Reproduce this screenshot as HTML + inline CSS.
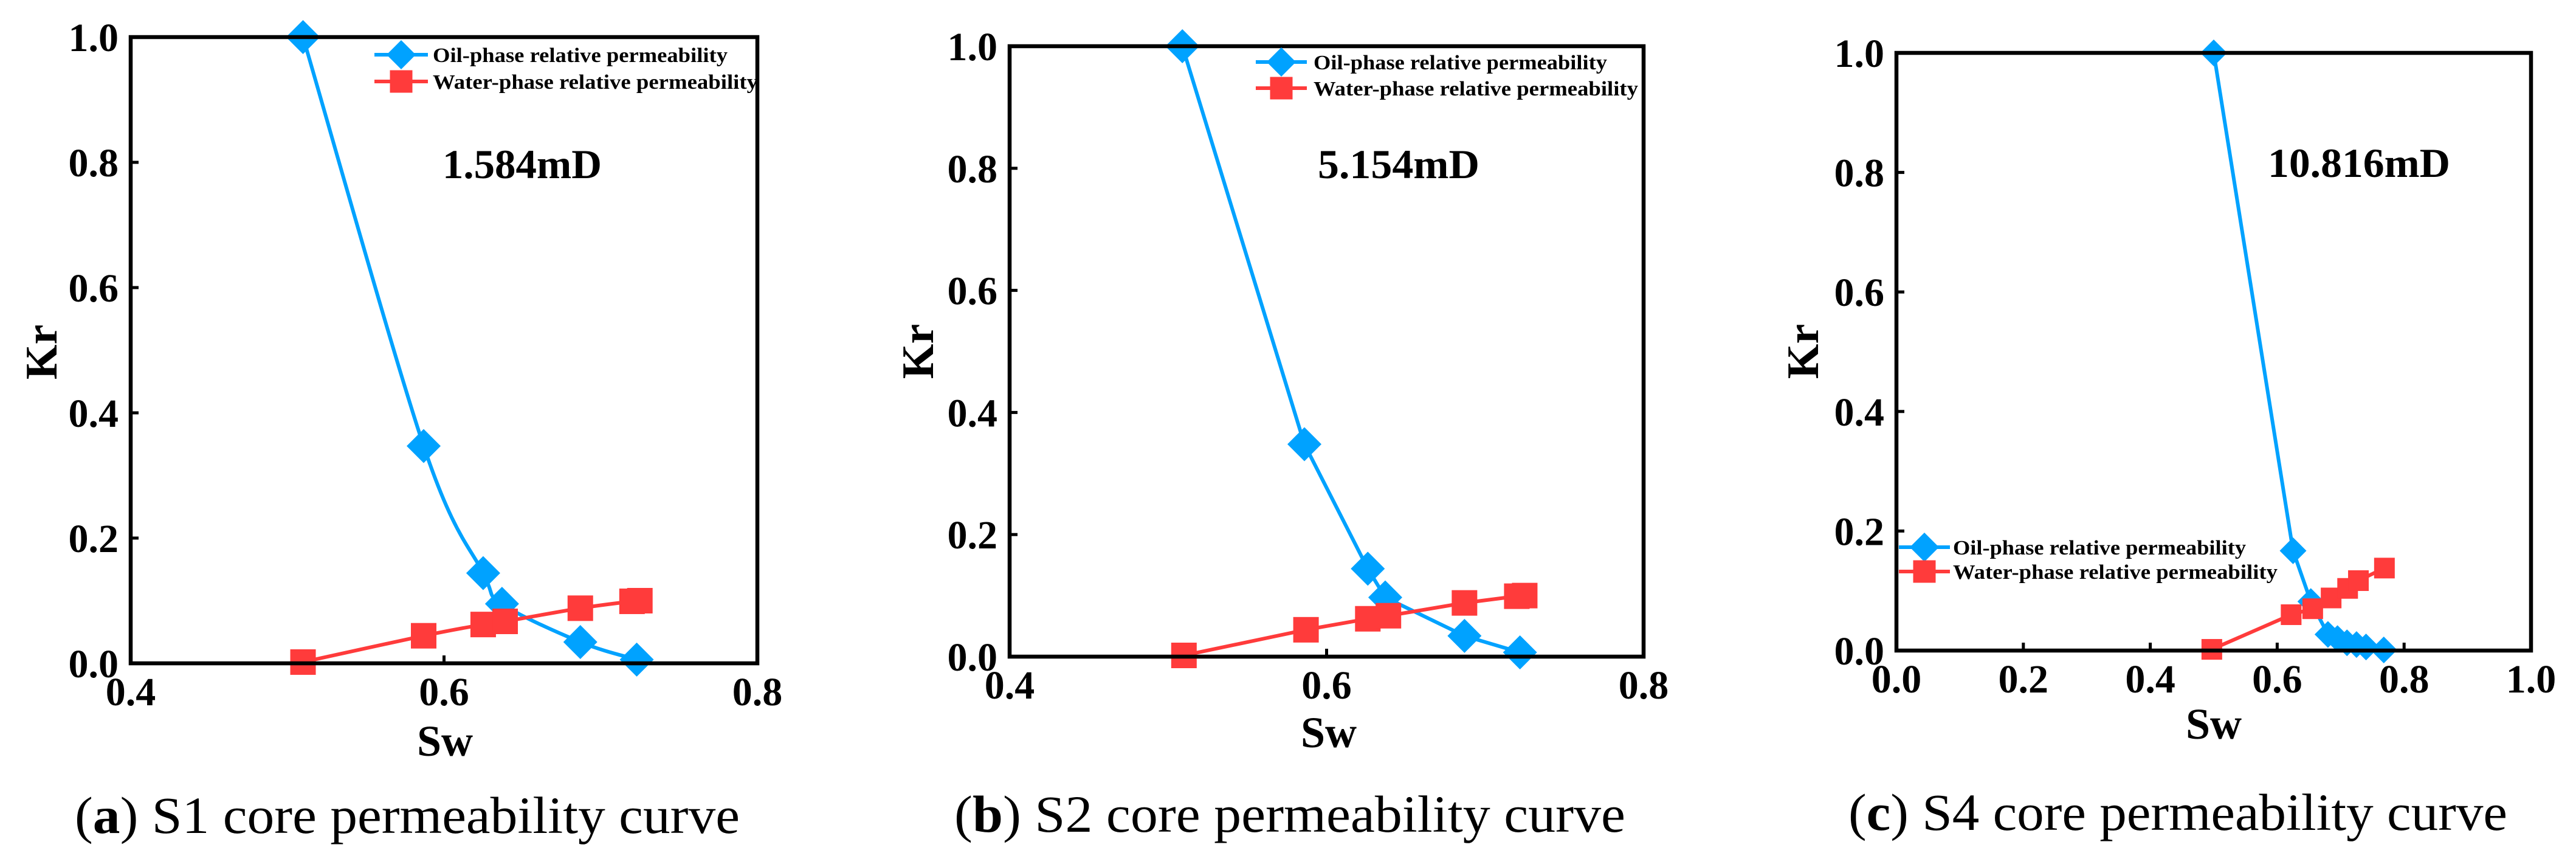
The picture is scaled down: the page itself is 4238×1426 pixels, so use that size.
<!DOCTYPE html>
<html><head><meta charset="utf-8">
<style>
html,body{margin:0;padding:0;background:#fff;}
svg{display:block;font-family:"Liberation Serif",serif;}
</style></head>
<body>
<svg id="fig" width="4238" height="1426" viewBox="0 0 4238 1426" xmlns="http://www.w3.org/2000/svg"></svg>
<script>
// ---- Panel (a) S1 data ----
const aOilSw = [0.510, 0.587, 0.625, 0.637, 0.687, 0.723];
const aOilKr = [1.000, 0.347, 0.144, 0.095, 0.034, 0.006];
const aWatSw = [0.510, 0.587, 0.625, 0.639, 0.687, 0.720, 0.725];
const aWatKr = [0.002, 0.044, 0.062, 0.067, 0.088, 0.099, 0.100];
// ---- Panel (b) S2 data ----
const bOilSw = [0.509, 0.586, 0.626, 0.637, 0.687, 0.722];
const bOilKr = [1.000, 0.348, 0.144, 0.097, 0.034, 0.007];
const bWatSw = [0.510, 0.587, 0.626, 0.639, 0.687, 0.720, 0.725];
const bWatKr = [0.002, 0.044, 0.062, 0.067, 0.088, 0.099, 0.100];
// ---- Panel (c) S4 data ----
const cOilSw = [0.500, 0.625, 0.653, 0.680, 0.695, 0.710, 0.725, 0.740, 0.768];
const cOilKr = [1.000, 0.167, 0.082, 0.027, 0.020, 0.013, 0.010, 0.006, 0.001];
const cWatSw = [0.497, 0.622, 0.656, 0.685, 0.711, 0.728, 0.769];
const cWatKr = [0.002, 0.060, 0.070, 0.088, 0.104, 0.117, 0.138];
// ---- Tick labels ----
const abXTicks = [0.4, 0.6, 0.8];
const cXTicks = [0.0, 0.2, 0.4, 0.6, 0.8, 1.0];
const yTicks = [0.0, 0.2, 0.4, 0.6, 0.8, 1.0];
const labels = ["1.584mD", "5.154mD", "10.816mD"];

const NS = "http://www.w3.org/2000/svg";
const svg = document.getElementById("fig");
function el(tag, attrs, parent) {
  const e = document.createElementNS(NS, tag);
  for (const k in attrs) e.setAttribute(k, attrs[k]);
  (parent || svg).appendChild(e);
  return e;
}
function smoothPath(pts) {
  let d = "M" + pts[0][0] + "," + pts[0][1];
  for (let i = 0; i < pts.length - 1; i++) {
    const p0 = pts[i - 1] || pts[i], p1 = pts[i], p2 = pts[i + 1], p3 = pts[i + 2] || pts[i + 1];
    const c1 = [p1[0] + (p2[0] - p0[0]) / 6, p1[1] + (p2[1] - p0[1]) / 6];
    const c2 = [p2[0] - (p3[0] - p1[0]) / 6, p2[1] - (p3[1] - p1[1]) / 6];
    d += " C" + c1.join(",") + " " + c2.join(",") + " " + p2.join(",");
  }
  return d;
}
function linePath(pts) { return "M" + pts.map(p => p.join(",")).join(" L"); }
function diamond(g, cx, cy, r) {
  const p = el("polygon", {points: `${cx},${cy-r} ${cx+r},${cy} ${cx},${cy+r} ${cx-r},${cy}`, fill: "#00a2ff"}, g);
  
  
}
function square(g, cx, cy, s) {
  const r = el("rect", {x: cx - s/2, y: cy - s/2, width: s, height: s, fill: "#ff3b3b"}, g);
  
  
}

function panel(cfg) {
  const g = el("g", {});
  
  
  const X = v => cfg.L + (v - cfg.x0) / (cfg.x1 - cfg.x0) * (cfg.R - cfg.L);
  const Y = v => cfg.B - v * (cfg.B - cfg.T);
  cfg.xt.forEach(v => {
    const t = el("line", {x1: X(v), x2: X(v), y1: cfg.B, y2: cfg.B - 13, stroke: "#000", "stroke-width": 5}, g);
    
    
    const tx = el("text", {x: X(v), y: cfg.B + 69, "text-anchor": "middle", "font-size": 66, "font-weight": "bold"}, g);
    tx.textContent = v.toFixed(1);
    
    
  });
  yTicks.forEach(v => {
    const t = el("line", {x1: cfg.L, x2: cfg.L + 13, y1: Y(v), y2: Y(v), stroke: "#000", "stroke-width": 5}, g);
    
    
    const tx = el("text", {x: cfg.L - 20, y: Y(v) + 23, "text-anchor": "end", "font-size": 66, "font-weight": "bold"}, g);
    tx.textContent = v.toFixed(1);
    
    
  });
  const oil = cfg.oS.map((s, i) => [X(s), Y(cfg.oK[i])]);
  const wat = cfg.wS.map((s, i) => [X(s), Y(cfg.wK[i])]);
  const ol = el("path", {d: cfg.smooth ? smoothPath(oil) : linePath(oil), fill: "none", stroke: "#00a2ff", "stroke-width": 6}, g);
  
  
  const wl = el("path", {d: cfg.smooth ? smoothPath(wat) : linePath(wat), fill: "none", stroke: "#ff3b3b", "stroke-width": 6}, g);
  
  
  oil.forEach(p => diamond(g, p[0], p[1], cfg.dr));
  wat.forEach(p => square(g, p[0], p[1], cfg.sq));
  const fr = el("rect", {x: cfg.L, y: cfg.T, width: cfg.R - cfg.L, height: cfg.B - cfg.T, fill: "none", stroke: "#000", "stroke-width": 6.5}, g);
  
  
  const lg = el("g", {}, g);
  
  
  const lx1 = cfg.lg[0], lx2 = cfg.lg[1], tx0 = cfg.lg[2], y1 = cfg.lg[3], y2 = cfg.lg[4];
  el("line", {x1: lx1, x2: lx2, y1: y1 - 12, y2: y1 - 12, stroke: "#00a2ff", "stroke-width": 6}, lg);
  diamond(lg, (lx1 + lx2) / 2, y1 - 12, 24);
  el("line", {x1: lx1, x2: lx2, y1: y2 - 12, y2: y2 - 12, stroke: "#ff3b3b", "stroke-width": 6}, lg);
  square(lg, (lx1 + lx2) / 2, y2 - 12, 37);
  const t1 = el("text", {x: tx0, y: y1, "font-size": 34, "font-weight": "bold", textLength: cfg.lg[5], lengthAdjust: "spacingAndGlyphs"}, lg);
  t1.textContent = "Oil-phase relative permeability";
  
  
  const t2 = el("text", {x: tx0, y: y2, "font-size": 34, "font-weight": "bold", textLength: cfg.lg[6], lengthAdjust: "spacingAndGlyphs"}, lg);
  t2.textContent = "Water-phase relative permeability";
  
  
  const an = el("text", {x: cfg.an[0], y: cfg.an[1], "font-size": 68, "font-weight": "bold", textLength: cfg.an[2], lengthAdjust: "spacingAndGlyphs"}, g);
  an.textContent = cfg.label;
  
  
  const kr = el("text", {x: 0, y: 0, "font-size": 74, "font-weight": "bold", "text-anchor": "middle", transform: `translate(${cfg.kr[0] + 26},${cfg.kr[1]}) rotate(-90)`}, g);
  kr.textContent = "Kr";
  
  
  const sw = el("text", {x: cfg.sw[0], y: cfg.sw[1], "font-size": 72, "font-weight": "bold", "text-anchor": "middle"}, g);
  sw.textContent = "Sw";
  
  
  const cap = el("text", {x: cfg.cap[0], y: cfg.cap[1], "font-size": 86, "text-anchor": "middle", textLength: cfg.cap[2], lengthAdjust: "spacingAndGlyphs"}, g);
  
  
  const s1 = el("tspan", {}, cap); s1.textContent = "(";
  const s2 = el("tspan", {"font-weight": "bold"}, cap); s2.textContent = cfg.letter;
  const s3 = el("tspan", {}, cap); s3.textContent = ") " + cfg.capText;
}

panel({name: "panel-a-s1", L: 215, R: 1246, T: 61, B: 1091, x0: 0.4, x1: 0.8, xt: abXTicks,
  oS: aOilSw, oK: aOilKr, wS: aWatSw, wK: aWatKr, smooth: true, dr: 28, sq: 42,
  lg: [616, 704, 712, 102, 146, 485, 535], an: [728, 293, 262], label: labels[0],
  kr: [67, 579], sw: [732, 1243], cap: [670, 1370, 1094], letter: "a", capText: "S1 core permeability curve"});
panel({name: "panel-b-s2", L: 1661, R: 2704, T: 76, B: 1080, x0: 0.4, x1: 0.8, xt: abXTicks,
  oS: bOilSw, oK: bOilKr, wS: bWatSw, wK: bWatKr, smooth: false, dr: 28, sq: 42,
  lg: [2066, 2150, 2161, 114, 157, 483, 534], an: [2168, 293, 266], label: labels[1],
  kr: [1509, 578], sw: [2186, 1229], cap: [2122, 1368, 1104], letter: "b", capText: "S2 core permeability curve"});
panel({name: "panel-c-s4", L: 3120, R: 4164, T: 87, B: 1070, x0: 0.0, x1: 1.0, xt: cXTicks,
  oS: cOilSw, oK: cOilKr, wS: cWatSw, wK: cWatKr, smooth: false, dr: 22, sq: 34,
  lg: [3124, 3208, 3213, 912, 952, 482, 534], an: [3731, 291, 300], label: labels[2],
  kr: [2965, 578], sw: [3642, 1215], cap: [3583, 1365, 1084], letter: "c", capText: "S4 core permeability curve"});
</script>
</body></html>
